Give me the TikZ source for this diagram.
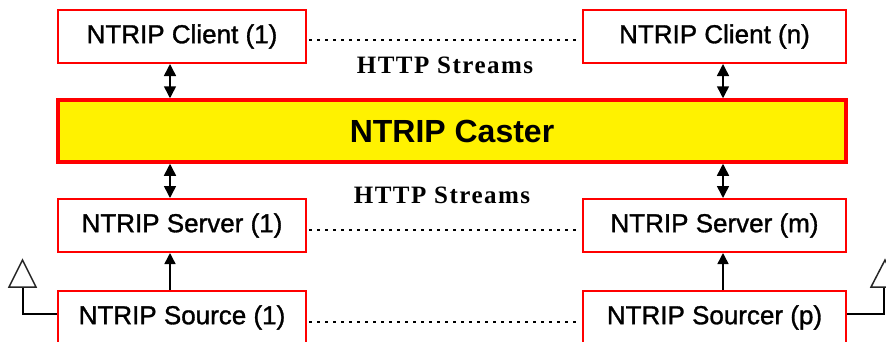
\documentclass[tikz,border=0pt]{standalone}
\usepackage{fontspec}
\setmainfont{Liberation Sans}
\newfontfamily\boxfont[FakeBold=1.2]{Liberation Sans}
\newfontfamily\httpfont[LetterSpace=6]{Liberation Serif}
\usetikzlibrary{arrows.meta}
\tikzset{
  box/.style={draw=red, line width=2pt, fill=white, inner sep=0pt,
    minimum height=53pt, font=\fontsize{26}{30}\selectfont\boxfont},
  caster/.style={draw=red, line width=3.5pt, fill=yellow, inner sep=0pt,
    minimum width=788pt, minimum height=62pt, font=\fontsize{32}{36}\selectfont\bfseries},
  dotline/.style={line width=2.5pt, dash pattern=on 2.5pt off 5.5pt},
  biarrow/.style={line width=1.5pt, {Triangle[length=12pt,width=12pt]}-{Triangle[length=12pt,width=12pt]}},
  uparrow/.style={line width=1.5pt, -{Triangle[length=11pt,width=11pt]}},
  lbl/.style={font=\fontsize{25}{28}\selectfont\httpfont\bfseries, anchor=base, inner sep=0pt},
  stem/.style={line width=2pt},
  antenna/.style={line width=1.5pt, draw=black!85, fill=white}
}
\begin{document}
\begin{tikzpicture}[x=1pt,y=-1pt]
\useasboundingbox (0,0) rectangle (886,341);
% boxes
\node[box, minimum width=248pt] (c1) at (182,36.5) {NTRIP Client (1)};
\node[box, minimum width=263pt] (cn) at (714.5,36.5) {NTRIP Client (n)};
\node[caster] (cas) at (452,131) {NTRIP Caster};
\node[box, minimum width=248pt] (s1) at (182,225.5) {NTRIP Server (1)};
\node[box, minimum width=263pt] (sm) at (714.5,225.5) {NTRIP Server (m)};
\node[box, minimum width=248pt] (r1) at (182,317.5) {NTRIP Source (1)};
\node[box, minimum width=263pt] (rp) at (714.5,317.5) {NTRIP Sourcer (p)};
% labels
\node[lbl] (h1) at (445,73) {HTTP Streams};
\node[lbl] (h2) at (442,203) {HTTP Streams};
% helper coordinates
\coordinate (L) at (170,0);
\coordinate (R) at (723,0);
\coordinate (y1) at (0,40);
\coordinate (y2) at (0,230);
\coordinate (y3) at (0,322);
\coordinate (ys) at (0,314);
% dotted lines
\draw[dotline] ([xshift=2pt]c1.east |- y1) -- ([xshift=-2pt]cn.west |- y1);
\draw[dotline] ([xshift=2pt]s1.east |- y2) -- ([xshift=-2pt]sm.west |- y2);
\draw[dotline] ([xshift=2pt]r1.east |- y3) -- ([xshift=-2pt]rp.west |- y3);
% arrows
\draw[biarrow] (c1.south -| L) -- (cas.north -| L);
\draw[biarrow] (cn.south -| R) -- (cas.north -| R);
\draw[biarrow] (cas.south -| L) -- (s1.north -| L);
\draw[biarrow] (cas.south -| R) -- (sm.north -| R);
\draw[uparrow] (r1.north -| L) -- (s1.south -| L);
\draw[uparrow] (rp.north -| R) -- (sm.south -| R);
% antennas
\coordinate (aL) at (22.5,287);
\coordinate (aR) at (884,287);
\draw[stem] (aL) -- (22.5,314) -- (r1.west |- ys);
\draw[stem] (aR) -- (884,314) -- (rp.east |- ys);
\draw[antenna] (9,287) -- (22.5,260) -- (36,287) -- cycle;
\draw[antenna] (871,287) -- (885,260) -- (899,287) -- cycle;
\end{tikzpicture}
\end{document}
